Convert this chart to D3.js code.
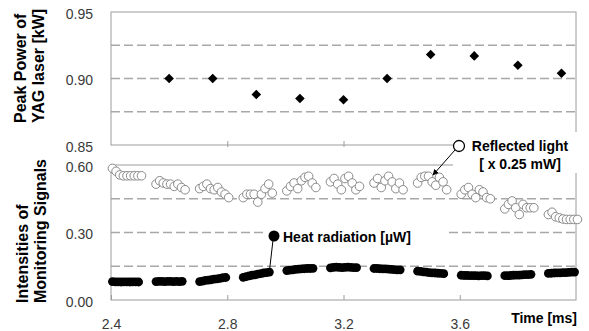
<!DOCTYPE html>
<html>
<head>
<meta charset="utf-8">
<script src="https://cdn.jsdelivr.net/npm/d3@7"></script>
<style>
  body { margin: 0; background: #fff; }
  svg { font-family: "Liberation Sans", Arial, sans-serif; }
</style>
</head>
<body>
<div id="chart"></div>
<script>
// peak power of YAG laser (top panel)
const peakTimes = [2.6, 2.75, 2.9, 3.05, 3.2, 3.35, 3.5, 3.65, 3.8, 3.95];
const peakPower = [0.900, 0.900, 0.888, 0.885, 0.884, 0.900, 0.918, 0.917, 0.910, 0.904];

// monitoring signals: one burst per pulse, sampled every 0.0125 / 0.01 ms
const burstStart = [2.405, 2.555, 2.705, 2.855, 3.005, 3.155, 3.305, 3.455, 3.605, 3.755, 3.905];
const reflectStep = 0.0125;
const heatStep = 0.01;

// reflected light [x 0.25 mW]
const reflected = [
  [0.585, 0.572, 0.556, 0.552, 0.552, 0.552, 0.552, 0.552, 0.552],
  [0.515, 0.530, 0.520, 0.515, 0.515, 0.505, 0.515, 0.500, 0.490],
  [0.495, 0.505, 0.515, 0.495, 0.490, 0.500, 0.480, 0.470, 0.455],
  [0.455, 0.470, 0.470, 0.470, 0.435, 0.470, 0.495, 0.515, 0.475],
  [0.485, 0.505, 0.520, 0.495, 0.530, 0.545, 0.550, 0.520, 0.500],
  [0.525, 0.540, 0.515, 0.490, 0.540, 0.550, 0.520, 0.490, 0.505],
  [0.520, 0.540, 0.500, 0.530, 0.550, 0.525, 0.495, 0.520, 0.490],
  [0.520, 0.545, 0.550, 0.550, 0.525, 0.510, 0.545, 0.525, 0.490],
  [0.470, 0.490, 0.500, 0.470, 0.455, 0.490, 0.480, 0.455, 0.450],
  [0.405, 0.425, 0.440, 0.410, 0.380, 0.425, 0.410, 0.410, 0.410],
  [0.380, 0.390, 0.370, 0.365, 0.360, 0.358, 0.358, 0.358, 0.358]
];

// heat radiation [uW]
const heat = [
  [0.082, 0.081, 0.081, 0.080, 0.081, 0.081, 0.080, 0.081, 0.081, 0.080],
  [0.082, 0.083, 0.083, 0.082, 0.083, 0.083, 0.082, 0.083, 0.082, 0.083],
  [0.082, 0.084, 0.087, 0.088, 0.090, 0.093, 0.094, 0.096, 0.099, 0.100],
  [0.101, 0.104, 0.107, 0.110, 0.112, 0.115, 0.117, 0.120, 0.122, 0.124],
  [0.131, 0.133, 0.134, 0.136, 0.137, 0.138, 0.139, 0.140, 0.140, 0.141],
  [0.143, 0.145, 0.146, 0.145, 0.144, 0.145, 0.146, 0.145, 0.144, 0.144],
  [0.140, 0.140, 0.139, 0.138, 0.138, 0.137, 0.136, 0.135, 0.134, 0.134],
  [0.128, 0.127, 0.125, 0.124, 0.122, 0.121, 0.120, 0.119, 0.118, 0.117],
  [0.110, 0.109, 0.109, 0.108, 0.108, 0.108, 0.107, 0.108, 0.108, 0.107],
  [0.108, 0.108, 0.109, 0.110, 0.111, 0.111, 0.112, 0.113, 0.113, 0.114],
  [0.118, 0.119, 0.120, 0.121, 0.121, 0.122, 0.122, 0.123, 0.124, 0.124]
];

const xTicks = [2.4, 2.8, 3.2, 3.6];
const topTicks = [0.85, 0.90, 0.95];
const topGrid = [0.875, 0.90, 0.925];
const botTicks = [0.00, 0.30, 0.60];
const botGrid = [0.15, 0.30, 0.45];

const width = 589, height = 331;
const left = 111, right = 576;

const svg = d3.select('#chart').append('svg')
  .attr('width', width)
  .attr('height', height);

const x = d3.scaleLinear().domain([2.4, 4.0]).range([left, right]);
const yTop = d3.scaleLinear().domain([0.85, 0.95]).range([145, 12]);
const yBot = d3.scaleLinear().domain([0, 0.6]).range([300, 165]);

const frameColor = '#9c9c9c';
const gridColor = '#a8a8a8';
const labelColor = '#3a3a3a';

// gridlines
function grid(scale, values) {
  svg.append('g').selectAll('line')
    .data(values)
    .enter().append('line')
    .attr('x1', left).attr('x2', right)
    .attr('y1', d => scale(d)).attr('y2', d => scale(d))
    .attr('stroke', gridColor)
    .attr('stroke-width', 1.5)
    .attr('stroke-dasharray', '9,4');
}
grid(yTop, topGrid);
grid(yBot, botGrid);

// frames
[yTop, yBot].forEach(s => {
  svg.append('rect')
    .attr('x', left).attr('y', s.range()[1])
    .attr('width', right - left)
    .attr('height', s.range()[0] - s.range()[1])
    .attr('fill', 'none')
    .attr('stroke', frameColor)
    .attr('stroke-width', 1);
});

// x ticks (inward) on both panels
const topX = svg.append('g')
  .attr('transform', `translate(0,${yTop.range()[0]})`)
  .call(d3.axisBottom(x).tickValues(xTicks.slice(1)).tickFormat('').tickSizeInner(-4).tickSizeOuter(0));
topX.select('.domain').remove();
topX.selectAll('line').attr('stroke', frameColor).attr('y2', -4).attr('y1', 2);

const botX = svg.append('g')
  .attr('transform', `translate(0,${yBot.range()[0]})`)
  .call(d3.axisBottom(x).tickValues(xTicks).tickFormat(d3.format('.1f')).tickSizeInner(-5).tickSizeOuter(0).tickPadding(19));
botX.select('.domain').remove();
botX.selectAll('line').attr('stroke', frameColor);
botX.selectAll('text')
  .attr('fill', labelColor)
  .style('font-size', '14px')
  .style('font-family', '"Liberation Sans", Arial, sans-serif');

// y tick labels
function yLabels(scale, values) {
  const g = svg.append('g')
    .attr('transform', `translate(${left},0)`)
    .call(d3.axisLeft(scale).tickValues(values).tickFormat(d3.format('.2f')).tickSize(0).tickPadding(18));
  g.select('.domain').remove();
  g.selectAll('text')
    .attr('fill', labelColor)
    .attr('dy', '0.45em')
    .style('font-size', '14px')
    .style('font-family', '"Liberation Sans", Arial, sans-serif');
}
yLabels(yTop, topTicks);
yLabels(yBot, botTicks);

// top panel diamonds
svg.append('g').selectAll('path')
  .data(peakTimes.map((t, i) => [t, peakPower[i]]))
  .enter().append('path')
  .attr('d', d3.symbol(d3.symbolSquare, 46))
  .attr('transform', d => `translate(${x(d[0])},${yTop(d[1])}) rotate(45)`)
  .attr('fill', '#000');

// heat radiation
const heatPts = [];
heat.forEach((burst, b) => burst.forEach((v, i) => heatPts.push([burstStart[b] + i * heatStep, v])));
svg.append('g').selectAll('circle')
  .data(heatPts)
  .enter().append('circle')
  .attr('cx', d => x(d[0]))
  .attr('cy', d => yBot(d[1]))
  .attr('r', 4.4)
  .attr('fill', '#000');

// reflected light
const reflPts = [];
reflected.forEach((burst, b) => burst.forEach((v, i) => reflPts.push([burstStart[b] + i * reflectStep, v])));
svg.append('g').selectAll('circle')
  .data(reflPts)
  .enter().append('circle')
  .attr('cx', d => x(d[0]))
  .attr('cy', d => yBot(d[1]))
  .attr('r', 4.3)
  .attr('fill', '#fff')
  .attr('stroke', '#8a8a8a')
  .attr('stroke-width', 1);

// label backgrounds
svg.append('rect').attr('x', 453).attr('y', 132).attr('width', 136).attr('height', 41).attr('fill', '#fff');
svg.append('rect').attr('x', 264).attr('y', 226).attr('width', 181).attr('height', 20).attr('fill', '#fff');

// arrows
svg.append('defs').append('marker')
  .attr('id', 'arrow')
  .attr('viewBox', '0 0 10 10')
  .attr('refX', 9).attr('refY', 5)
  .attr('markerWidth', 6).attr('markerHeight', 6)
  .attr('orient', 'auto')
  .append('path').attr('d', 'M0,0L10,5L0,10z').attr('fill', '#000');

svg.append('line')
  .attr('x1', 455).attr('y1', 150).attr('x2', 433).attr('y2', 175)
  .attr('stroke', '#000').attr('stroke-width', 1)
  .attr('marker-end', 'url(#arrow)');
svg.append('line')
  .attr('x1', 273).attr('y1', 240).attr('x2', 269).attr('y2', 275)
  .attr('stroke', '#000').attr('stroke-width', 1)
  .attr('marker-end', 'url(#arrow)');

// legend markers + text
svg.append('circle').attr('cx', 459).attr('cy', 146).attr('r', 5.5)
  .attr('fill', '#fff').attr('stroke', '#000').attr('stroke-width', 1.3);
svg.append('circle').attr('cx', 274).attr('cy', 236).attr('r', 5.5).attr('fill', '#000');

const bold = { 'font-weight': 'bold', 'font-size': '14px', 'fill': '#000' };
function label(txt, xPos, yPos, anchor) {
  const t = svg.append('text')
    .attr('x', xPos).attr('y', yPos)
    .attr('text-anchor', anchor)
    .text(txt);
  Object.entries(bold).forEach(([k, v]) => t.style(k, v));
  return t;
}
label('Reflected light', 520, 151, 'middle');
label('[ x 0.25 mW]', 520, 169, 'middle');
label('Heat radiation [\u00b5W]', 283, 242, 'start');
label('Time [ms]', 577, 323, 'end');

// y axis titles
function yTitle(txt, xPos, yPos) {
  svg.append('text')
    .attr('transform', `translate(${xPos},${yPos}) rotate(-90)`)
    .attr('text-anchor', 'start')
    .style('font-weight', 'bold')
    .style('font-size', '16px')
    .text(txt);
}
yTitle('Peak Power of', 26, 123);
yTitle('YAG laser [kW]', 44, 123);
yTitle('Intensities of', 28, 303);
yTitle('Monitoring Signals', 46, 303);
</script>
</body>
</html>
